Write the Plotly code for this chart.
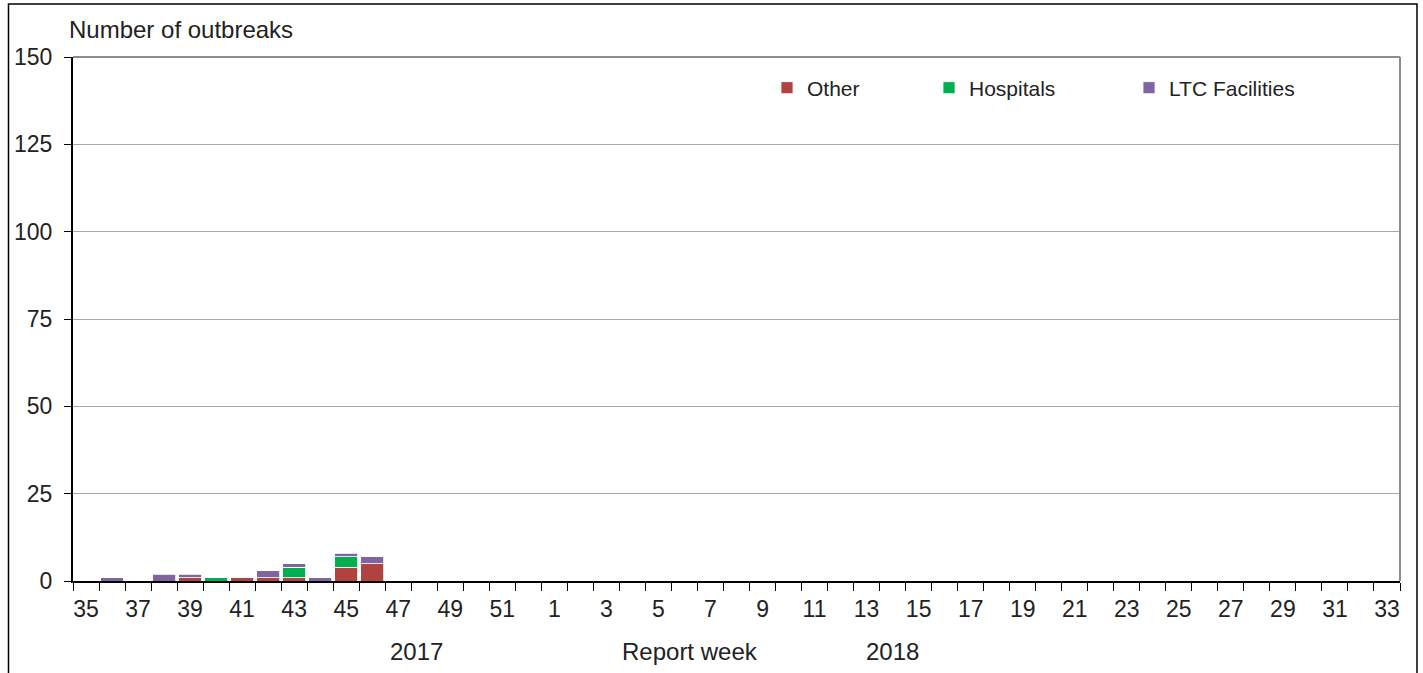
import plotly.graph_objects as go

weeks = [str(w) for w in list(range(35, 53)) + list(range(1, 34))]
other = [0, 0, 0, 0, 1, 0, 1, 1, 1, 0, 4, 5] + [0] * 39
hospitals = [0, 0, 0, 0, 0, 1, 0, 0, 3, 0, 3, 0] + [0] * 39
ltc = [0, 1, 0, 2, 1, 0, 0, 2, 1, 1, 1, 2] + [0] * 39
tick_labels = [w if i % 2 == 0 else "" for i, w in enumerate(weeks)]

FONT = "Liberation Sans, Arial, sans-serif"
W, H = 1423, 673
L, R, T, B = 73, 23, 57, 92
pw, ph = W - L - R, H - T - B


def px(x):
    return (x - L) / pw


def py(y):
    return (H - B - y) / ph


fig = go.Figure()
fig.add_trace(go.Bar(x=weeks, y=other, name="Other", marker_color="#B0433F",
                     marker_line=dict(color="white", width=0.8), legend="legend"))
fig.add_trace(go.Bar(x=weeks, y=hospitals, name="Hospitals", marker_color="#00B050",
                     marker_line=dict(color="white", width=0.8), legend="legend2"))
fig.add_trace(go.Bar(x=weeks, y=ltc, name="LTC Facilities", marker_color="#8064A2",
                     marker_line=dict(color="white", width=0.8), legend="legend3"))

leg = dict(yanchor="middle", y=py(88), xanchor="left", bgcolor="rgba(0,0,0,0)",
           font=dict(family=FONT, size=21, color="#222"), itemwidth=30)

ANN = dict(family=FONT, size=24, color="#222")
TICK = dict(family=FONT, size=23, color="#222")

fig.update_layout(
    width=W, height=H,
    margin=dict(l=L, r=R, t=T, b=B),
    barmode="stack", bargap=0.12,
    showlegend=True,
    plot_bgcolor="white", paper_bgcolor="white",
    font=dict(family=FONT, size=21, color="#222"),
    legend=dict(leg, x=px(767)),
    legend2=dict(leg, x=px(929)),
    legend3=dict(leg, x=px(1129)),
    xaxis=dict(type="category", categoryorder="array", categoryarray=weeks,
               tickmode="array", tickvals=weeks, ticktext=tick_labels, tickangle=0,
               tickson="boundaries", ticks="outside", ticklen=8, tickcolor="black",
               showline=True, linecolor="black", linewidth=2, showgrid=False,
               ticklabelstandoff=6, tickfont=TICK),
    yaxis=dict(range=[0, 150], tickvals=[0, 25, 50, 75, 100, 125, 150],
               ticks="outside", ticklen=7, tickcolor="black",
               showline=True, linecolor="black", linewidth=2,
               showgrid=True, gridcolor="#A6A6A6", gridwidth=1, zeroline=False,
               ticklabelstandoff=7, tickfont=TICK),
    shapes=[
        dict(type="line", xref="paper", yref="paper", x0=0, x1=1, y0=1, y1=1,
             line=dict(color="#8C8C8C", width=2)),
        dict(type="line", xref="paper", yref="paper", x0=1, x1=1, y0=0, y1=1,
             line=dict(color="#8C8C8C", width=2)),
        dict(type="rect", xref="paper", yref="paper", x0=px(8.5), x1=px(1417),
             y0=py(700), y1=py(4), line=dict(color="black", width=1.5),
             fillcolor="rgba(0,0,0,0)", layer="below"),
    ],
    annotations=[
        dict(text="Number of outbreaks", xref="paper", yref="paper", x=px(67), y=py(29),
             xanchor="left", yanchor="middle", showarrow=False, font=ANN),
        dict(text="2017", xref="paper", yref="paper", x=px(416), y=py(651),
             xanchor="center", yanchor="middle", showarrow=False, font=ANN),
        dict(text="Report week", xref="paper", yref="paper", x=px(690), y=py(651),
             xanchor="center", yanchor="middle", showarrow=False, font=ANN),
        dict(text="2018", xref="paper", yref="paper", x=px(892), y=py(651),
             xanchor="center", yanchor="middle", showarrow=False, font=ANN),
    ],
)

fig.write_html("out.html", config={"displayModeBar": False},
               post_script="document.body.style.margin='0';document.body.style.overflow='hidden';")
